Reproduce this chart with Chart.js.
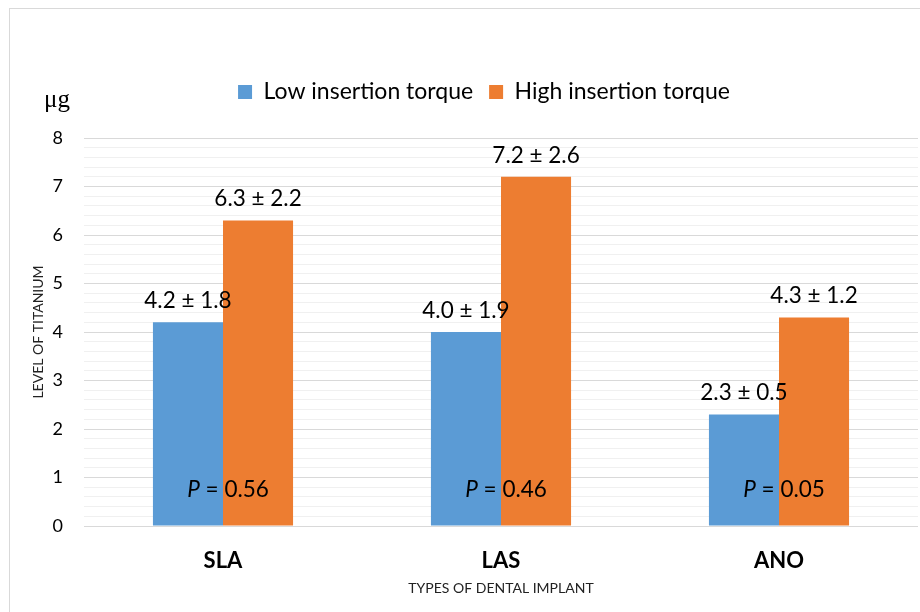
<!DOCTYPE html>
<html><head><meta charset="utf-8">
<script src="https://cdn.jsdelivr.net/npm/chart.js@4/dist/chart.umd.min.js"></script>
<style>html,body{margin:0;padding:0;background:#fff;}#wrap{width:920px;height:612px;}</style>
</head><body><div id="wrap"><canvas id="c" width="920" height="612"></canvas></div>
<script>
const categories = ['SLA', 'LAS', 'ANO'];
const seriesNames = ['Low insertion torque', 'High insertion torque'];
const lowMean = [4.2, 4.0, 2.3];
const lowSD = [1.8, 1.9, 0.5];
const highMean = [6.3, 7.2, 4.3];
const highSD = [2.2, 2.6, 1.2];
const pValues = ['0.56', '0.46', '0.05'];
const yMin = 0, yMax = 8, yMinorStep = 0.2;
const unitLabel = 'μg';
const yTitle = 'LEVEL OF TITANIUM';
const xTitle = 'TYPES OF DENTAL IMPLANT';

const FONT = 'Lato';
const LBL = 22.5;
const LEG = 23;
const isInt = v => Math.abs(v - Math.round(v)) < 1e-6;

const frame = {
  id: 'frame',
  beforeInit(chart) {
    const lg = chart.legend;
    if (lg) {
      const origFit = lg.fit;
      lg.fit = function () { origFit.call(this); this.height += 24.5; };
      const origDraw = lg.draw;
      lg.draw = function () {
        const c = this.ctx;
        c.save();
        c.translate(25, 0);
        origDraw.apply(this, arguments);
        c.restore();
      };
    }
  },
  beforeDraw(chart) {
    const ctx = chart.ctx;
    ctx.save();
    ctx.fillStyle = '#fff';
    ctx.fillRect(0, 0, chart.width, chart.height);
    ctx.strokeStyle = '#d9d9d9';
    ctx.lineWidth = 1;
    ctx.strokeRect(9.5, 8.5, 940, 640);
    ctx.restore();
  },
  afterDraw(chart) {
    const ctx = chart.ctx;
    ctx.save();
    ctx.font = '25px "Liberation Serif"';
    ctx.fillStyle = '#000';
    ctx.textAlign = 'left';
    ctx.textBaseline = 'alphabetic';
    ctx.fillText(unitLabel, 44, 107);
    ctx.restore();
  }
};

const labels = {
  id: 'labels',
  afterDatasetsDraw(chart) {
    const ctx = chart.ctx;
    ctx.save();
    ctx.fillStyle = '#000';
    ctx.font = LBL + 'px ' + FONT;
    ctx.textAlign = 'center';
    ctx.textBaseline = 'alphabetic';
    [lowSD, highSD].forEach((sds, di) => {
      const meta = chart.getDatasetMeta(di);
      meta.data.forEach((bar, i) => {
        const mean = chart.data.datasets[di].data[i];
        ctx.fillText(mean.toFixed(1) + ' ± ' + sds[i].toFixed(1), bar.x, bar.y - 14);
      });
    });
    const xs = chart.scales.x, ys = chart.scales.y;
    ctx.textAlign = 'left';
    pValues.forEach((p, i) => {
      const cx = xs.getPixelForValue(i) + 5;
      const base = ys.getPixelForValue(0) - 29;
      ctx.font = 'italic ' + LBL + 'px ' + FONT;
      const w1 = ctx.measureText('P').width;
      ctx.font = LBL + 'px ' + FONT;
      const rest = ' = ' + p;
      const w2 = ctx.measureText(rest).width;
      const x0 = cx - (w1 + w2) / 2;
      ctx.font = 'italic ' + LBL + 'px ' + FONT;
      ctx.fillText('P', x0, base);
      ctx.font = LBL + 'px ' + FONT;
      ctx.fillText(rest, x0 + w1, base);
    });
    ctx.restore();
  }
};

new Chart(document.getElementById('c'), {
  type: 'bar',
  data: {
    labels: categories,
    datasets: [
      { label: seriesNames[0], data: lowMean, backgroundColor: '#5B9BD5', borderWidth: 0 },
      { label: seriesNames[1], data: highMean, backgroundColor: '#ED7D31', borderWidth: 0 }
    ]
  },
  options: {
    responsive: false,
    animation: false,
    devicePixelRatio: 1,
    layout: { padding: { top: 64.5, right: 2, bottom: 0, left: 0 } },
    datasets: { bar: { barPercentage: 1, categoryPercentage: 0.504 } },
    plugins: {
      legend: {
        position: 'top',
        align: 'center',
        labels: {
          font: { family: FONT, size: LEG },
          color: '#000',
          boxWidth: 14,
          boxHeight: 14,
          padding: 16
        }
      },
      tooltip: { enabled: false }
    },
    scales: {
      x: {
        grid: { display: false, drawTicks: false },
        border: { display: false },
        ticks: { font: { family: FONT, size: 22, weight: 'bold' }, color: '#000', padding: 22 },
        title: { display: true, text: xTitle, font: { family: FONT, size: 14 }, color: '#222', padding: { top: 0, bottom: 15.6 } },
        afterFit(scale) { scale.height = 86; }
      },
      y: {
        min: yMin, max: yMax,
        grid: {
          drawTicks: false,
          color: ctx => isInt(ctx.tick.value) ? '#d9d9d9' : '#f0f0f0',
          lineWidth: 1
        },
        border: { display: false },
        ticks: {
          stepSize: yMinorStep,
          autoSkip: false,
          font: { family: FONT, size: 18 },
          color: '#000',
          padding: 21,
          callback: v => isInt(v) ? String(Math.round(v)) : ''
        },
        title: { display: true, text: yTitle, font: { family: FONT, size: 14 }, color: '#222', padding: { top: 29.6, bottom: 0 } },
        afterFit(scale) { scale.width = 84; }
      }
    }
  },
  plugins: [frame, labels]
});
</script>
</body></html>
